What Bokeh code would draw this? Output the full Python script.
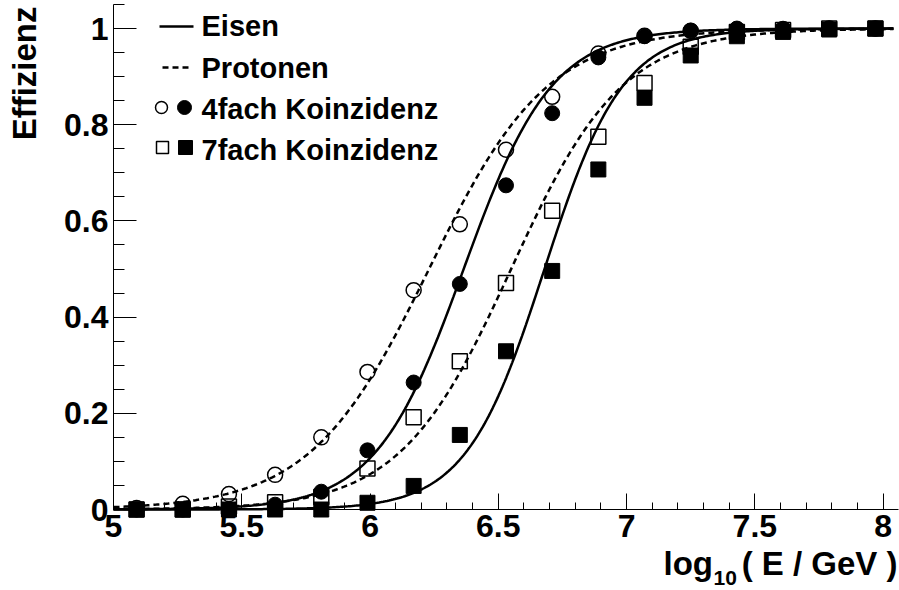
import numpy as np
from bokeh.plotting import figure
from bokeh.models import Range1d, FixedTicker, Label, LinearAxis, Grid
from bokeh.embed import file_html
from bokeh.resources import INLINE

# Simulated trigger efficiency vs. primary energy
log_energy = [5.09, 5.27, 5.45, 5.63, 5.81, 5.99, 6.17, 6.35, 6.53,
              6.71, 6.89, 7.07, 7.25, 7.43, 7.61, 7.79, 7.97]

eff_proton_4fach = [0.003, 0.012, 0.032, 0.072, 0.150, 0.286, 0.456, 0.593, 0.748,
                    0.858, 0.948, 0.985, 0.995, 0.998, 0.999, 1.000, 1.000]
eff_iron_4fach = [0.000, 0.000, 0.001, 0.010, 0.037, 0.123, 0.264, 0.469, 0.674,
                  0.824, 0.940, 0.984, 0.996, 1.000, 0.998, 1.000, 1.000]
eff_proton_7fach = [0.000, 0.000, 0.006, 0.015, 0.026, 0.085, 0.192, 0.308, 0.471,
                    0.621, 0.775, 0.887, 0.962, 0.993, 0.997, 1.000, 1.000]
eff_iron_7fach = [0.000, 0.000, 0.000, 0.000, 0.000, 0.014, 0.049, 0.155, 0.329,
                  0.496, 0.707, 0.856, 0.944, 0.984, 0.993, 0.998, 1.000]

# Logistic fit results: (threshold log10(E/GeV), width)
fit_iron_4fach = (6.365, 0.172)
fit_proton_4fach = (6.230, 0.232)
fit_iron_7fach = (6.680, 0.153)
fit_proton_7fach = (6.550, 0.217)
fit_range = (5.0, 8.04)

x_ticks = [5.0, 5.5, 6.0, 6.5, 7.0, 7.5, 8.0]
x_tick_labels = ["5", "5.5", "6", "6.5", "7", "7.5", "8"]
y_ticks = [0.0, 0.2, 0.4, 0.6, 0.8, 1.0]
y_tick_labels = ["0", "0.2", "0.4", "0.6", "0.8", "1"]

legend_texts = ["Eisen", "Protonen", "4fach Koinzidenz", "7fach Koinzidenz"]

FONT = "Liberation Sans"
# axis extents
X0, X1 = 5.0, 8.06
Y0, Y1 = 0.0, 1.05
# canvas and where the axes sit on it (pixels)
W, H = 899, 590
AX_LEFT, AX_RIGHT, AX_TOP, AX_BOTTOM = 113, 898, 4, 509
PX_X = (AX_RIGHT - AX_LEFT) / (X1 - X0)
PX_Y = (AX_BOTTOM - AX_TOP) / (Y1 - Y0)


def sx(px):
    """canvas pixel column -> data x"""
    return X0 + (px - AX_LEFT) / PX_X


def sy(py):
    """canvas pixel row -> data y"""
    return Y1 - (py - AX_TOP) / PX_Y


def logistic(x, centre, width):
    return 1.0 / (1.0 + np.exp(-(x - centre) / width))


# the data frame spans the whole canvas; the axes are pinned inside it
p = figure(width=W, height=H, x_range=Range1d(sx(0), sx(W)), y_range=Range1d(sy(H), sy(0)),
           output_backend="svg", toolbar_location=None,
           x_axis_location=None, y_axis_location=None,
           min_border_left=0, min_border_right=0, min_border_top=0, min_border_bottom=0)
p.outline_line_color = None
p.background_fill_color = "white"
p.border_fill_color = "white"
for r in list(p.center):
    if isinstance(r, Grid):
        r.visible = False
p.xgrid.visible = False
p.ygrid.visible = False

xaxis = LinearAxis(fixed_location=Y0, bounds=(X0, X1))
yaxis = LinearAxis(fixed_location=X0, bounds=(Y0, Y1))
xaxis.ticker = FixedTicker(ticks=x_ticks,
                           minor_ticks=[round(5.0 + 0.1 * i, 2) for i in range(31)])
xaxis.major_label_overrides = dict(zip(x_ticks, x_tick_labels))
yaxis.ticker = FixedTicker(ticks=y_ticks,
                           minor_ticks=[round(0.05 * i, 2) for i in range(22)])
yaxis.major_label_overrides = dict(zip(y_ticks, y_tick_labels))
for ax in (xaxis, yaxis):
    ax.axis_line_color = "black"
    ax.axis_line_width = 1
    ax.major_tick_line_color = "black"
    ax.minor_tick_line_color = "black"
    ax.major_tick_out = 0
    ax.minor_tick_out = 0
    ax.major_label_text_font = FONT
    ax.major_label_text_font_style = "bold"
    ax.major_label_text_font_size = "32px"
    ax.major_label_text_color = "black"
    ax.major_label_standoff = 5
xaxis.major_tick_in = 16
xaxis.minor_tick_in = 7
yaxis.major_tick_in = 23
yaxis.minor_tick_in = 11
p.add_layout(xaxis, "below")
p.add_layout(yaxis, "left")


def text(px, baseline, s, size, align="left", angle=0.0):
    """bold label whose alphabetic baseline sits at the given canvas row"""
    mid = baseline - 0.38 * size
    if angle:
        x, y = sx(baseline - 0.38 * size), sy(px)
    else:
        x, y = sx(px), sy(mid)
    p.add_layout(Label(x=x, y=y, text=s, angle=angle, text_font=FONT,
                       text_font_style="bold", text_font_size=f"{size}px",
                       text_align=align, text_baseline="middle", text_color="black"))


# axis titles
text(6, 37, "Effizienz", 33, align="right", angle=np.pi / 2)
text(663, 576, "log", 33)
text(713, 585, "10", 21)
text(897, 576, "( E / GeV )", 33, align="right")

# fit curves
xf = np.linspace(fit_range[0], fit_range[1], 400)
p.line(xf, logistic(xf, *fit_proton_4fach), line_color="black", line_width=2.5, line_dash="6 4")
p.line(xf, logistic(xf, *fit_proton_7fach), line_color="black", line_width=2.5, line_dash="6 4")
p.line(xf, logistic(xf, *fit_iron_4fach), line_color="black", line_width=2.5)
p.line(xf, logistic(xf, *fit_iron_7fach), line_color="black", line_width=2.5)

# measured points
p.scatter(log_energy, eff_proton_4fach, marker="circle", size=15,
          fill_alpha=0, line_color="black", line_width=1.5)
p.scatter(log_energy, eff_iron_4fach, marker="circle", size=15,
          fill_color="black", line_color="black", line_width=1)
p.scatter(log_energy, eff_proton_7fach, marker="square", size=15,
          fill_alpha=0, line_color="black", line_width=1.5)
p.scatter(log_energy, eff_iron_7fach, marker="square", size=15,
          fill_color="black", line_color="black", line_width=1)

# legend
p.line([sx(159), sx(193)], [sy(26), sy(26)], line_color="black", line_width=2.5)
p.line([sx(162), sx(189)], [sy(67), sy(67)], line_color="black", line_width=2.5, line_dash="6 4")
p.scatter([sx(161)], [sy(107)], marker="circle", size=12, fill_alpha=0,
          line_color="black", line_width=1.5)
p.scatter([sx(184)], [sy(107)], marker="circle", size=14, fill_color="black", line_color="black")
p.scatter([sx(162)], [sy(147)], marker="square", size=12, fill_alpha=0,
          line_color="black", line_width=1.5)
p.scatter([sx(185)], [sy(147)], marker="square", size=14, fill_color="black", line_color="black")
for txt, base in zip(legend_texts, [37, 79, 120, 161]):
    text(201, base, txt, 29)

open("out.html", "w").write(file_html(p, INLINE))
